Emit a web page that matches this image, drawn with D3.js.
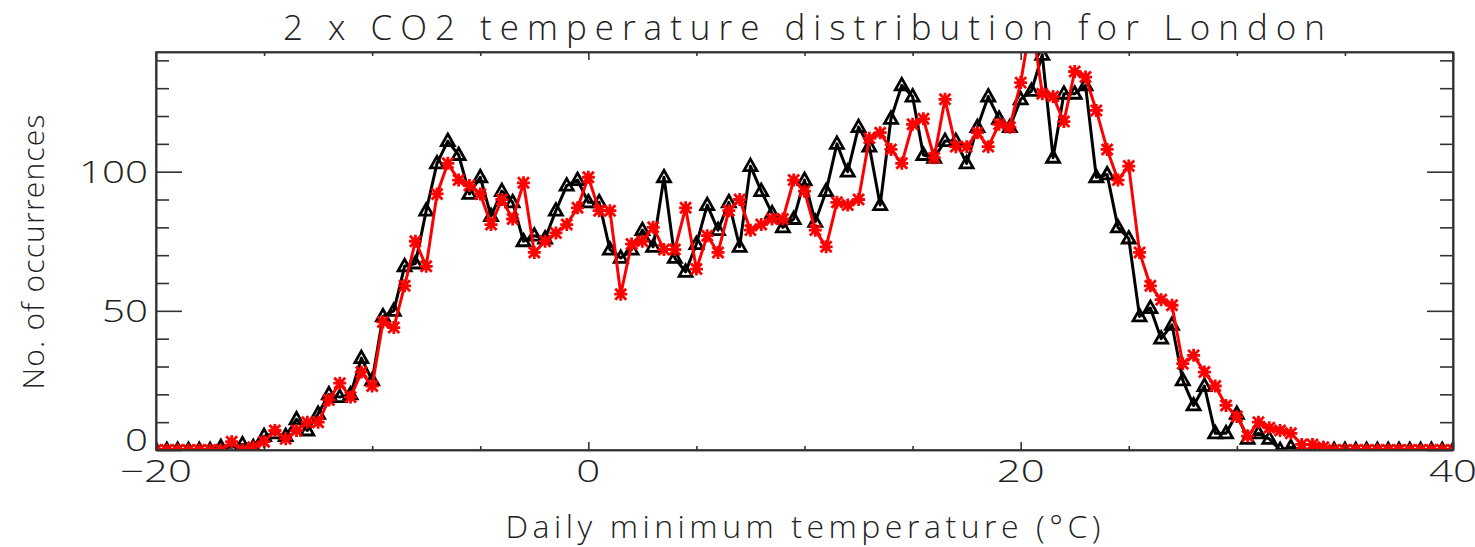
<!DOCTYPE html>
<html>
<head>
<meta charset="utf-8">
<script src="https://cdn.jsdelivr.net/npm/d3@7"></script>
<style>
  html, body { margin: 0; padding: 0; background: #fff; }
  svg { display: block; }
  text { font-family: "Open Sans", "DejaVu Sans", sans-serif; font-weight: 300; fill: #222; }
</style>
</head>
<body>
<svg id="chart" width="1475" height="547"></svg>
<script>
// ---------- data ----------
const xStart = -20;          // first bin (°C)
const xStep = 0.5;           // bin width (°C)
const controlCounts = [
  0,0,0,0,0,0,1,1,2,1, 5,6,5,11,7,13,20,19,20,33,
  25,48,50,66,67,86,103,111,106,92, 98,84,93,89,75,77,76,86,95,97,
  89,89,72,69,72,79,73,98,69,64, 74,88,79,89,73,102,93,85,80,83,
  97,82,93,110,100,116,109,88,119,131, 127,106,105,111,111,103,116,127,119,116,
  126,129,142,105,128,128,131,98,99,80, 76,48,51,40,45,25,16,23,6,6,
  13,4,6,4,0,1,0,0,0,0, 0,0,0,0,0,0,0,0,0,0, 0
];
const co2Counts = [
  0,0,0,0,0,0,0,3,0,1, 3,7,4,7,10,10,18,24,19,28,
  23,46,44,59,75,66,92,103,97,95, 92,81,90,83,96,71,75,78,81,87,
  98,86,86,56,74,75,80,72,72,87, 65,77,71,86,90,79,81,83,83,97,
  93,79,73,89,88,90,112,114,108,103, 117,119,105,126,109,109,114,109,117,116,
  132,155,128,127,118,136,134,122,108,97, 102,71,59,54,52,31,34,28,23,16,
  12,5,10,8,7,6,2,2,1,0, 0,0,0,0,0,0,0,0,0,0, 0
];
const xMajorTicks = [-20, 0, 20, 40];
const xMinorTicks = [-15, -10, -5, 5, 10, 15, 25, 30, 35];
const yMajorTicks = [0, 50, 100];
const yMinorTicks = [10, 20, 30, 40, 60, 70, 80, 90, 110, 120, 130, 140];
const titleText = "2 x CO2 temperature distribution for London";
const xTitle = "Daily minimum temperature (°C)";
const yTitle = "No. of occurrences";

// ---------- layout ----------
const L = 156, R = 1453, T = 52, B = 450;
const svg = d3.select("#chart");
const x = d3.scaleLinear().domain([-20, 40]).range([L, R]);
const y = d3.scaleLinear().domain([0, 143]).range([B, T]);

const ctrl = controlCounts.map((v, i) => ({x: xStart + i * xStep, y: v}));
const co2 = co2Counts.map((v, i) => ({x: xStart + i * xStep, y: v}));

svg.append("defs").append("clipPath").attr("id", "clip")
  .append("rect").attr("x", L).attr("y", T).attr("width", R - L).attr("height", B - T);

const plot = svg.append("g").attr("clip-path", "url(#clip)");
const line = d3.line().x(d => x(d.x)).y(d => y(d.y));

// control (black triangles)
plot.append("path").datum(ctrl).attr("d", line)
  .attr("fill", "none").attr("stroke", "#000").attr("stroke-width", 3).attr("stroke-linejoin", "round");
plot.append("g").selectAll("path").data(ctrl).join("path")
  .attr("transform", d => `translate(${x(d.x)},${y(d.y)})`)
  .attr("d", "M0,-7 L6.5,4.5 L-6.5,4.5 Z")
  .attr("fill", "none").attr("stroke", "#000").attr("stroke-width", 2.8);

// 2xCO2 (red asterisks)
plot.append("path").datum(co2).attr("d", line)
  .attr("fill", "none").attr("stroke", "#ff0000").attr("stroke-width", 3).attr("stroke-linejoin", "round");
plot.append("g").selectAll("path").data(co2).join("path")
  .attr("transform", d => `translate(${x(d.x)},${y(d.y)})`)
  .attr("d", "M-6.5,0 L6.5,0 M0,-6.5 L0,6.5 M-5.5,-5.5 L5.5,5.5 M-5.5,5.5 L5.5,-5.5")
  .attr("fill", "none").attr("stroke", "#ff0000").attr("stroke-width", 2.8);

// ---------- axes (box with inward ticks) ----------
const axStyle = g => {
  g.selectAll(".domain").attr("stroke", "#333").attr("stroke-width", 1.6);
  g.selectAll(".tick line").attr("stroke", "#333").attr("stroke-width", 1.6);
};
function addAxis(axisFn, scale, ticks, size, transform) {
  const g = svg.append("g").attr("transform", transform)
    .call(axisFn(scale).tickValues(ticks).tickSize(size).tickSizeOuter(0).tickFormat(""));
  axStyle(g);
  return g;
}
addAxis(d3.axisBottom, x, xMajorTicks, -8, `translate(0,${B})`);
addAxis(d3.axisBottom, x, xMinorTicks, -4, `translate(0,${B})`);
addAxis(d3.axisTop, x, xMajorTicks, -8, `translate(0,${T})`);
addAxis(d3.axisTop, x, xMinorTicks, -4, `translate(0,${T})`);
addAxis(d3.axisLeft, y, yMajorTicks, -26, `translate(${L},0)`);
addAxis(d3.axisLeft, y, yMinorTicks, -13, `translate(${L},0)`);
addAxis(d3.axisRight, y, yMajorTicks, -26, `translate(${R},0)`);
addAxis(d3.axisRight, y, yMinorTicks, -13, `translate(${R},0)`);
svg.append("rect").attr("x", L).attr("y", T).attr("width", R - L).attr("height", B - T)
  .attr("fill", "none").attr("stroke", "#333").attr("stroke-width", 1.6);

// tick labels
const fmt = v => (v < 0 ? "\u2212" + Math.abs(v) : String(v));
svg.append("g").selectAll("text").data(xMajorTicks).join("text")
  .attr("x", d => x(d)).attr("y", 482)
  .attr("text-anchor", "middle").attr("font-size", 31)
  .attr("textLength", d => fmt(d).length * 24).attr("lengthAdjust", "spacingAndGlyphs")
  .text(fmt);
svg.append("g").selectAll("text").data(yMajorTicks).join("text")
  .attr("x", 148).attr("y", d => y(d) + 11 - (d === 0 ? 10 : 0))
  .attr("text-anchor", "end").attr("font-size", 31)
  .attr("textLength", d => String(d).length * 23).attr("lengthAdjust", "spacingAndGlyphs")
  .text(d => String(d));

// titles
svg.append("text").attr("x", 804).attr("y", 40).attr("text-anchor", "middle")
  .attr("font-size", 35).attr("textLength", 1042).attr("lengthAdjust", "spacing")
  .text(titleText);
svg.append("text").attr("x", 803).attr("y", 538).attr("text-anchor", "middle")
  .attr("font-size", 32).attr("textLength", 595).attr("lengthAdjust", "spacing")
  .text(xTitle);
svg.append("text").attr("transform", "translate(44,252) rotate(-90)").attr("text-anchor", "middle")
  .attr("font-size", 30).attr("textLength", 275).attr("lengthAdjust", "spacing")
  .text(yTitle);
</script>
</body>
</html>
